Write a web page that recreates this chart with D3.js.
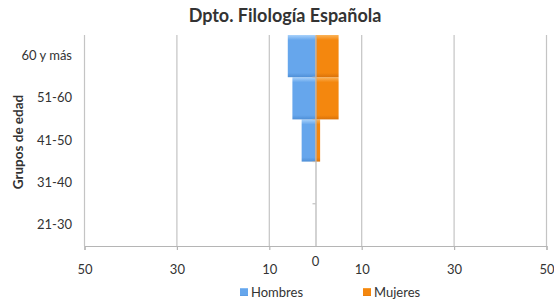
<!DOCTYPE html>
<html>
<head>
<meta charset="utf-8">
<script src="https://cdn.jsdelivr.net/npm/d3@7"></script>
<style>
  body { margin: 0; background: white; }
  text { font-family: Lato, "Open Sans", sans-serif; fill: #333; }
</style>
</head>
<body>
<svg width="554" height="304"></svg>
<script>
var width = 554, height = 304;

// data (bottom to top)
var groups = ['21-30', '31-40', '41-50', '51-60', '60 y más'];
var hombres = [0, 0, 3, 5, 6];
var mujeres = [0, 0, 1, 5, 5];
var xTicks = [-50, -30, -10, 10, 30, 50];
var seriesNames = ['Hombres', 'Mujeres'];

var svg = d3.select('svg');
svg.append('rect').attr('width', width).attr('height', height).attr('fill', 'white');

var plotLeft = 84.5, plotRight = 546.5, plotTop = 35, plotBottom = 246;

var x = d3.scaleLinear().domain([-50, 50]).range([plotLeft, plotRight]);
var y = d3.scaleBand().domain(groups.slice().reverse()).range([plotTop, plotBottom]).padding(0);

var defs = svg.append('defs');
function grad(id, c1, c2, c3) {
    var g = defs.append('linearGradient').attr('id', id)
        .attr('x1', 0).attr('y1', 0).attr('x2', 0).attr('y2', 1);
    g.append('stop').attr('offset', '0%').attr('stop-color', c1);
    g.append('stop').attr('offset', '12%').attr('stop-color', c2);
    g.append('stop').attr('offset', '90%').attr('stop-color', c2);
    g.append('stop').attr('offset', '100%').attr('stop-color', c3);
}
grad('gBlue', '#a9d2fb', '#66a6ec', '#4f8fd6');
grad('gOrange', '#fbb45a', '#f4870e', '#d9720a');

// gridlines
svg.append('g').selectAll('line')
    .data(xTicks)
    .enter().append('line')
    .attr('x1', function(d) { return x(d); })
    .attr('x2', function(d) { return x(d); })
    .attr('y1', plotTop).attr('y2', plotBottom)
    .attr('stroke', '#c4c4c4').attr('stroke-width', 1.2);

// x axis
var xAxis = d3.axisBottom(x).tickValues(xTicks).tickSize(4)
    .tickFormat(function(d) { return Math.abs(d); });
var gx = svg.append('g').attr('transform', 'translate(0,' + plotBottom + ')').call(xAxis);
gx.select('.domain').attr('stroke', '#b5b5b5').attr('stroke-width', 1.2);
gx.selectAll('.tick line').attr('stroke', '#b5b5b5').attr('stroke-width', 1.2);
gx.selectAll('.tick text').attr('y', 19).style('font-size', '13px')
    .style('font-family', 'Lato, sans-serif').attr('fill', '#333');

// bars
var gBars = svg.append('g');
gBars.selectAll('.h')
    .data(groups)
    .enter().append('rect')
    .attr('class', 'h')
    .attr('x', function(d, i) { return x(-hombres[i]); })
    .attr('width', function(d, i) { return x(0) - x(-hombres[i]); })
    .attr('y', function(d) { return y(d); })
    .attr('height', y.bandwidth())
    .attr('fill', 'url(#gBlue)');
gBars.selectAll('.m')
    .data(groups)
    .enter().append('rect')
    .attr('class', 'm')
    .attr('x', x(0))
    .attr('width', function(d, i) { return x(mujeres[i]) - x(0); })
    .attr('y', function(d) { return y(d); })
    .attr('height', y.bandwidth())
    .attr('fill', 'url(#gOrange)');

// category axis at 0
var yAxis = d3.axisLeft(y).tickSize(0).tickFormat('');
var gy = svg.append('g').attr('transform', 'translate(' + x(0) + ',0)').call(yAxis);
gy.select('.domain').attr('stroke', '#b5b5b5').attr('stroke-width', 1.2);
gy.selectAll('.bnd')
    .data(groups.slice(0, 4))
    .enter().append('line')
    .attr('x1', -3).attr('x2', 0)
    .attr('y1', function(d) { return y(d); })
    .attr('y2', function(d) { return y(d); })
    .attr('stroke', '#b5b5b5');

// zero label
svg.append('text').attr('x', x(0)).attr('y', 266)
    .attr('text-anchor', 'middle').style('font-size', '13px').text('0');

// category labels
svg.append('g').selectAll('text')
    .data(groups)
    .enter().append('text')
    .attr('x', 72)
    .attr('y', function(d) { return y(d) + y.bandwidth() / 2 + 4; })
    .attr('text-anchor', 'end')
    .style('font-size', '13px')
    .text(function(d) { return d; });

// title
svg.append('text').attr('x', 285).attr('y', 22)
    .attr('text-anchor', 'middle')
    .style('font-size', '18px').style('font-weight', 'bold').attr('fill', '#222')
    .text('Dpto. Filología Española');

// y title
svg.append('text')
    .attr('transform', 'translate(23,142) rotate(-90)')
    .attr('text-anchor', 'middle')
    .style('font-size', '13.5px').style('font-weight', 'bold').attr('fill', '#222')
    .text('Grupos de edad');

// legend
var legendX = [240, 363];
var legendFill = ['url(#gBlue)', 'url(#gOrange)'];
var lg = svg.append('g').selectAll('g')
    .data(seriesNames)
    .enter().append('g')
    .attr('transform', function(d, i) { return 'translate(' + legendX[i] + ',288)'; });
lg.append('rect').attr('width', 8).attr('height', 8)
    .attr('fill', function(d, i) { return legendFill[i]; });
lg.append('text').attr('x', 11).attr('y', 9).style('font-size', '13px')
    .text(function(d) { return d; });
</script>
</body>
</html>
